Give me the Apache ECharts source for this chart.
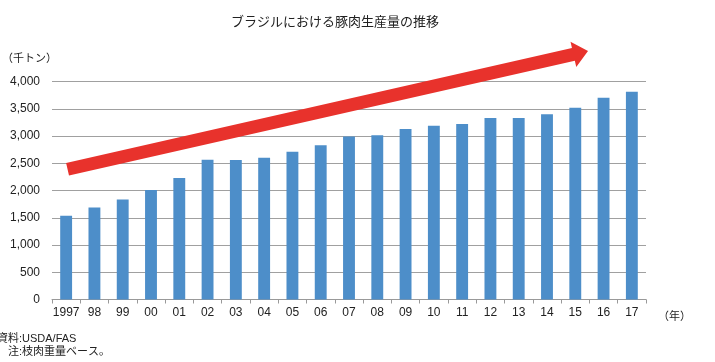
<!DOCTYPE html>
<html><head><meta charset="utf-8">
<script src="https://cdn.jsdelivr.net/npm/echarts@6/dist/echarts.min.js"></script>
<style>html,body{margin:0;padding:0;background:#fff}#c{width:715px;height:362px}</style>
</head><body><div id="c"></div>
<script>
const categories = ['1997','98','99','00','01','02','03','04','05','06','07','08','09','10','11','12','13','14','15','16','17'];
const production = [1535,1690,1835,2010,2230,2565,2560,2600,2710,2830,2990,3015,3130,3190,3220,3330,3330,3400,3520,3700,3810];
const yTicks = [0,500,1000,1500,2000,2500,3000,3500,4000];
// trend arrow annotation: [category index, value] start and tip
const arrowStart = [0.05, 2390];
const arrowTip = [18.45, 4560];

const FONT = '"Liberation Sans","Noto Sans CJK JP",sans-serif';
const chart = echarts.init(document.getElementById('c'), null, {renderer:'canvas'});
chart.setOption({
  animation:false,
  textStyle:{fontFamily:FONT},
  grid:{left:52, right:69, top:81.5, bottom:62.5, containLabel:false},
  xAxis:{type:'category', data:categories,
    axisLine:{lineStyle:{color:'#999'}},
    axisTick:{show:true, length:4, lineStyle:{color:'#999'}},
    axisLabel:{color:'#222', fontSize:12, margin:7, interval:0},
    name:'（年）', nameLocation:'end', nameGap:12,
    nameTextStyle:{color:'#222', fontSize:11, verticalAlign:'top', padding:[12,0,0,0]}},
  yAxis:{type:'value', min:yTicks[0], max:yTicks[yTicks.length-1], interval:500,
    axisLine:{show:false}, axisTick:{show:false},
    splitLine:{lineStyle:{color:'#a0a0a0'}},
    axisLabel:{color:'#222', fontSize:12, margin:12,
      formatter:v=>v.toLocaleString('en-US')}},
  series:[{type:'bar', data:production, barWidth:'42%',
    itemStyle:{color:'#4d8ec9'}}]
});

function toPx(p){
  const a = chart.convertToPixel({gridIndex:0},[0,p[1]]);
  const b = chart.convertToPixel({gridIndex:0},[1,p[1]]);
  return [a[0] + (b[0]-a[0])*p[0], a[1]];
}
const s = toPx(arrowStart), t = toPx(arrowTip);
const dx=t[0]-s[0], dy=t[1]-s[1], L=Math.hypot(dx,dy);
const ux=dx/L, uy=dy/L, nx=-uy, ny=ux;
const hw=6.5, headL=15, headW=13;
const bx=t[0]-ux*headL, by=t[1]-uy*headL;
const pts=[
  [s[0]+nx*hw, s[1]+ny*hw],
  [bx+nx*hw, by+ny*hw],
  [bx+nx*headW, by+ny*headW],
  [t[0], t[1]],
  [bx-nx*headW, by-ny*headW],
  [bx-nx*hw, by-ny*hw],
  [s[0]-nx*hw, s[1]-ny*hw]
];
chart.setOption({graphic:[
  {type:'text', x:335, y:16, style:{text:'ブラジルにおける豚肉生産量の推移', fill:'#222', font:'13px '+FONT, textAlign:'center'}},
  {type:'text', left:2, top:53, style:{text:'（千トン）', fill:'#222', font:'11px '+FONT}},
  {type:'text', left:-3, top:333, style:{text:'資料:USDA/FAS', fill:'#222', font:'11px '+FONT}},
  {type:'text', left:8, top:346, style:{text:'注:枝肉重量ベース。', fill:'#222', font:'11px '+FONT}},
  {type:'polygon', shape:{points:pts}, style:{fill:'#e8322c'}, z:10}
]});
</script></body></html>
